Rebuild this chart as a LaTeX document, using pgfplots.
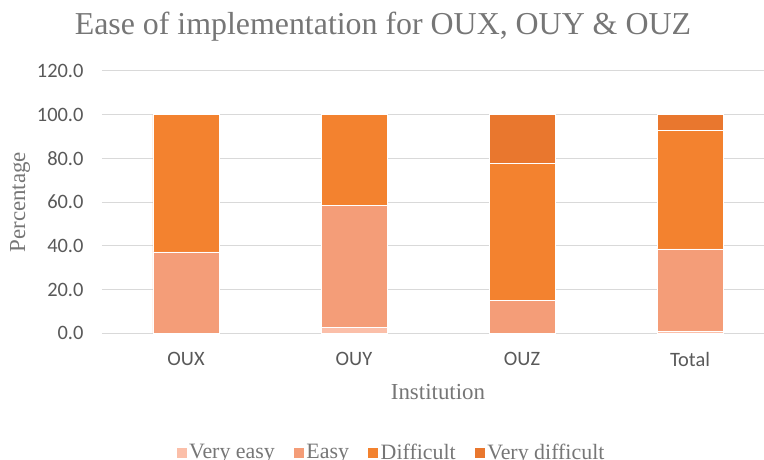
\documentclass[border=0pt]{standalone}
\usepackage{pgfplots}
\pgfplotsset{compat=1.18}
\usepackage{fontspec}
\setmainfont{Liberation Serif}
\newfontfamily\carlito{Carlito}
\definecolor{cVE}{HTML}{FBBFA9}
\definecolor{cE}{HTML}{F49D78}
\definecolor{cD}{HTML}{F3822F}
\definecolor{cVD}{HTML}{E9772E}
\definecolor{tgray}{HTML}{767676}
\definecolor{kgray}{HTML}{595959}
\definecolor{ggray}{HTML}{D9D9D9}
\begin{document}
\begin{tikzpicture}
\path[use as bounding box] (-102bp,-126.7bp) rectangle (662bp,333.3bp);
\begin{axis}[
  at={(0,0)}, anchor=south west,
  scale only axis,
  width=672bp, height=262.3bp,
  xmin=-0.5, xmax=3.5,
  ymin=0, ymax=120,
  ybar stacked,
  bar width=66bp,
  xtick={0,1,2,3},
  xticklabels={OUX,OUY,OUZ,Total},
  ytick={0,20,40,60,80,100,120},
  major tick length=0pt,
  axis line style={draw=none},
  ymajorgrids,
  grid style={ggray, line width=1bp},
  /pgf/number format/assume math mode=true,
  yticklabel style={/pgf/number format/fixed, /pgf/number format/fixed zerofill, /pgf/number format/precision=1, xshift=-15bp},
  tick label style={font=\carlito\fontsize{20.5}{22}\selectfont, text=kgray},
  xticklabel style={yshift=-15bp},
  title={Ease of implementation for OUX, OUY \& OUZ},
  title style={at={(0.418,1)}, anchor=center, yshift=38bp, font=\fontsize{32}{36}\selectfont, text=tgray},
  xlabel={Institution},
  xlabel style={at={(0.5,0)}, anchor=center, yshift=-59bp, font=\fontsize{23}{26}\selectfont, text=tgray},
  ylabel={Percentage},
  ylabel style={at={(0,0.5)}, anchor=center, yshift=82bp, font=\fontsize{23}{26}\selectfont, text=tgray},
  legend columns=4,
  legend style={at={(0.43,0)}, anchor=center, yshift=-119bp, draw=none, fill=none,
    font=\fontsize{22}{24}\selectfont, text=tgray,
    /tikz/every even column/.append style={column sep=16bp}},
  legend image code/.code={\fill[#1] (0bp,-5.5bp) rectangle (11bp,5.5bp);},
  every axis plot/.append style={draw=white, line width=0.6bp},
]
\addplot[fill=cVE] coordinates {(0,0) (1,2.8) (2,0) (3,1.0)};
\addplot[fill=cE] coordinates {(0,37.2) (1,55.6) (2,15.2) (3,37.6)};
\addplot[fill=cD] coordinates {(0,62.8) (1,41.6) (2,62.6) (3,54.3)};
\addplot[fill=cVD] coordinates {(0,0) (1,0) (2,22.2) (3,7.1)};
\legend{Very easy, Easy, Difficult, Very difficult}
\end{axis}
\end{tikzpicture}
\end{document}
